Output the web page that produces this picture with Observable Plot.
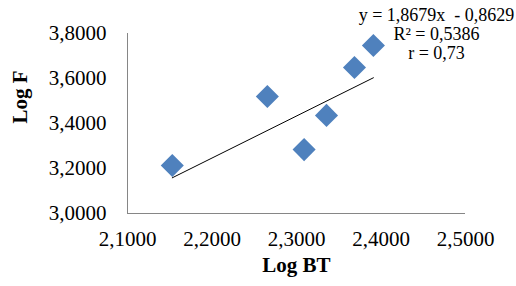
<!DOCTYPE html>
<html>
<head>
<meta charset="utf-8">
<script src="https://cdn.jsdelivr.net/npm/d3@7"></script>
<script src="https://cdn.jsdelivr.net/npm/@observablehq/plot@0.6"></script>
<style>
  html, body { margin: 0; padding: 0; background: #fff; }
  svg { font-family: "Liberation Serif", "Times New Roman", serif; }
</style>
</head>
<body>
<div id="chart"></div>
<script>
// Data
const logBT = [2.153, 2.2655, 2.309, 2.3355, 2.3686, 2.391];
const logF  = [3.213, 3.520, 3.284, 3.436, 3.649, 3.747];
const xTicks = [2.1, 2.2, 2.3, 2.4, 2.5];
const yTicks = [3.0, 3.2, 3.4, 3.6, 3.8];
const trendSlope = 1.8679;
const trendIntercept = -0.8629;
const trendLabel = ["y = 1,8679x  - 0,8629", "R² = 0,5386", "r = 0,73"];
const xTitle = "Log BT";
const yTitle = "Log F";

const points = logBT.map((x, i) => ({x, y: logF[i]}));
const xExtent = d3.extent(logBT);
const trend = xExtent.map(x => ({x, y: trendSlope * x + trendIntercept}));
const fmt = d => d.toFixed(4).replace(".", ",");

const chart = Plot.plot({
  width: 516,
  height: 286,
  marginLeft: 127,
  marginRight: 51,
  marginTop: 33,
  marginBottom: 73,
  style: {fontFamily: "'Liberation Serif', 'Times New Roman', serif", background: "#fff", color: "#000"},
  x: {domain: [2.1, 2.5]},
  y: {domain: [3.0, 3.8]},
  marks: [
    Plot.axisY(yTicks, {tickSize: 0, tickPadding: 21, tickFormat: fmt, fontSize: 21, label: null, fill: "#000"}),
    Plot.axisX(xTicks, {tickSize: 0, tickPadding: 18, tickFormat: fmt, fontSize: 21, label: null, fill: "#000"}),
    Plot.ruleX([2.1], {stroke: "#868686", strokeWidth: 1}),
    Plot.ruleY([3.0], {stroke: "#868686", strokeWidth: 1}),
    Plot.line(trend, {x: "x", y: "y", stroke: "#000", strokeWidth: 1}),
    Plot.dot(points, {x: "x", y: "y", symbol: "diamond2", r: 10.4, fill: "#4F81BD", stroke: "none"}),
    Plot.text([trendLabel.join("\n")], {frameAnchor: "top-right", textAnchor: "middle", lineAnchor: "top", dx: -29, dy: -26, fontSize: 18, lineHeight: 1.05, fill: "#000"}),
    Plot.text([xTitle], {frameAnchor: "bottom", dy: 58, fontSize: 21, fontWeight: "bold", fill: "#000"}),
    Plot.text([yTitle], {frameAnchor: "left", dx: -107, rotate: -90, fontSize: 21, fontWeight: "bold", fill: "#000"})
  ]
});
document.getElementById("chart").appendChild(chart);
</script>
</body>
</html>
